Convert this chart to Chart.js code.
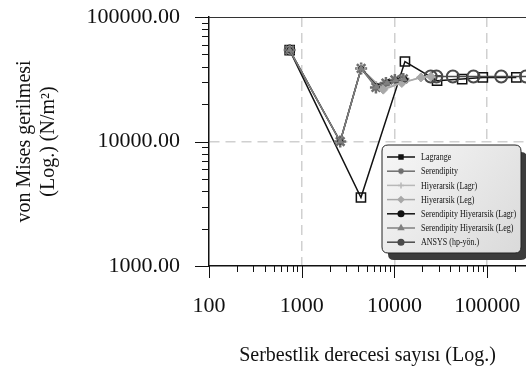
<!DOCTYPE html>
<html>
<head>
<meta charset="utf-8">
<script src="https://cdn.jsdelivr.net/npm/chart.js@4.4.0/dist/chart.umd.min.js"></script>
<style>
  html, body { margin: 0; padding: 0; background: #fff; }
  #wrap { width: 526px; height: 374px; position: relative; }
</style>
</head>
<body>
<div id="wrap"><canvas id="chart"></canvas></div>
<script>
// values (x = degrees of freedom, y = von Mises stress)
const lagrangeX = [741, 4350, 12970, 28800, 53700, 89700, 206000];
const lagrangeY = [54200, 3550, 43900, 30800, 31700, 32700, 32700];

const serendipityX = [741, 2600, 4370, 6310, 8090, 10100, 12450];
const serendipityY = [54200, 10000, 38600, 27200, 29500, 31200, 31800];

const hiyLagrX = [7400, 12450, 19000, 24600];
const hiyLagrY = [26500, 30000, 32600, 33300];

const hiyLegX = [4370, 7570, 12000, 19300, 24600];
const hiyLegY = [38600, 26100, 29500, 32700, 33200];

const serHiyLagrX = [741, 2600, 4370, 6500, 8500, 10500, 13000];
const serHiyLagrY = [54200, 10000, 38600, 27800, 30000, 31000, 31500];

const serHiyLegX = [741, 2600, 4370, 6400, 8300, 10300, 12700];
const serHiyLegY = [54200, 10000, 38600, 27500, 29700, 31000, 31600];

const ansysX = [24600, 28300, 42600, 71100, 141600, 262000];
const ansysY = [33300, 33300, 33300, 33300, 33300, 33300];

const xTickLabels = ['100', '1000', '10000', '100000'];
const yTickLabels = ['1000.00', '10000.00', '100000.00'];

const FONT = "'Liberation Serif', 'Times New Roman', serif";

function pts(xs, ys) {
  return xs.map((x, i) => ({ x, y: ys[i] }));
}

function isDecade(v) {
  const l = Math.log10(v);
  return Math.abs(l - Math.round(l)) < 1e-9;
}

function logTicks(min, max) {
  const out = [];
  for (let e = Math.floor(Math.log10(min)); e <= Math.ceil(Math.log10(max)); e++) {
    for (let m = 1; m <= 9; m++) {
      const v = m * Math.pow(10, e);
      if (v >= min - 1e-9 && v <= max + 1e-9) out.push({ value: v });
    }
  }
  return out;
}

function series(label, xs, ys, color, style, radius, fill, bw) {
  return {
    label,
    data: pts(xs, ys),
    borderColor: color,
    backgroundColor: color,
    borderWidth: 1.5,
    pointStyle: style,
    pointRadius: radius,
    pointBorderColor: color,
    pointBackgroundColor: fill,
    pointBorderWidth: bw,
    tension: 0,
    clip: 8,
  };
}

const datasets = [
  series('Serendipity Hiyerarsik (Leg)', serHiyLegX, serHiyLegY, '#808080', 'triangle', 3.5, '#808080', 1),
  series('Serendipity Hiyerarsik (Lagr)', serHiyLagrX, serHiyLagrY, '#111', 'circle', 2.5, '#111', 1),
  series('Hiyerarsik (Leg)', hiyLegX, hiyLegY, '#a8a8a8', 'rectRot', 4.5, '#a8a8a8', 1),
  series('Hiyerarsik (Lagr)', hiyLagrX, hiyLagrY, '#b8b8b8', 'cross', 4, '#b8b8b8', 1.5),
  series('Serendipity', serendipityX, serendipityY, '#6e6e6e', 'star', 6, '#6e6e6e', 2.5),
  series('ANSYS (hp-yön.)', ansysX, ansysY, '#4a4a4a', 'circle', 6, 'rgba(0,0,0,0)', 2),
  series('Lagrange', lagrangeX, lagrangeY, '#111', 'rect', 6.5, 'rgba(0,0,0,0)', 1.5),
];

// legend order as in the picture
const legendOrder = ['Lagrange', 'Serendipity', 'Hiyerarsik (Lagr)', 'Hiyerarsik (Leg)',
  'Serendipity Hiyerarsik (Lagr)', 'Serendipity Hiyerarsik (Leg)', 'ANSYS (hp-yön.)'];

// tick marks (long at decades, short otherwise) and the top frame line
const tickMarks = {
  id: 'tickMarks',
  afterDraw(chart) {
    const ctx = chart.ctx;
    const area = chart.chartArea;
    const xs = chart.scales.x;
    const ys = chart.scales.y;
    ctx.save();
    ctx.strokeStyle = '#111';
    ctx.lineWidth = 1;
    ctx.beginPath();
    xs.ticks.forEach((t) => {
      if (t.value > xs.max) return;
      const px = Math.round(xs.getPixelForValue(t.value)) + 0.5;
      const len = isDecade(t.value) ? 12 : 6;
      ctx.moveTo(px, area.bottom);
      ctx.lineTo(px, area.bottom + len);
    });
    ys.ticks.forEach((t) => {
      const py = Math.round(ys.getPixelForValue(t.value)) + 0.5;
      const len = isDecade(t.value) ? 14 : 7;
      ctx.moveTo(area.left - len, py);
      ctx.lineTo(area.left, py);
    });
    ctx.stroke();
    ctx.strokeStyle = '#333';
    ctx.beginPath();
    const top = Math.round(ys.getPixelForValue(ys.max)) + 0.5;
    ctx.moveTo(area.left, top);
    ctx.lineTo(area.right, top);
    ctx.stroke();
    ctx.restore();
  },
};

function roundRect(ctx, x, y, w, h, r) {
  ctx.beginPath();
  ctx.moveTo(x + r, y);
  ctx.lineTo(x + w - r, y);
  ctx.quadraticCurveTo(x + w, y, x + w, y + r);
  ctx.lineTo(x + w, y + h - r);
  ctx.quadraticCurveTo(x + w, y + h, x + w - r, y + h);
  ctx.lineTo(x + r, y + h);
  ctx.quadraticCurveTo(x, y + h, x, y + h - r);
  ctx.lineTo(x, y + r);
  ctx.quadraticCurveTo(x, y, x + r, y);
  ctx.closePath();
}

const legendBox = {
  id: 'legendBox',
  afterDraw(chart) {
    const ctx = chart.ctx;
    const area = chart.chartArea;
    const w = 139, h = 108;
    const x = area.right - 144;
    const y = area.top + 128;
    ctx.save();
    roundRect(ctx, x + 6, y + 7, w, h, 6);
    ctx.fillStyle = '#3c3c3c';
    ctx.fill();
    const g = ctx.createLinearGradient(x, y, x + w, y + h);
    g.addColorStop(0, '#f7f7f7');
    g.addColorStop(1, '#dadada');
    roundRect(ctx, x, y, w, h, 6);
    ctx.fillStyle = g;
    ctx.fill();
    ctx.strokeStyle = '#222';
    ctx.lineWidth = 1;
    ctx.stroke();

    legendOrder.forEach((name, i) => {
      const ds = chart.data.datasets.find((d) => d.label === name);
      const cy = y + 12 + i * 14.2;
      ctx.strokeStyle = ds.borderColor;
      ctx.lineWidth = 1.5;
      ctx.beginPath();
      ctx.moveTo(x + 5, cy);
      ctx.lineTo(x + 33, cy);
      ctx.stroke();
      ctx.fillStyle = ds.borderColor;
      Chart.helpers.drawPoint(ctx, {
        pointStyle: ds.pointStyle,
        radius: ds.pointStyle === 'star' || ds.pointStyle === 'cross' ? 3 : 2.8,
        borderWidth: ds.pointStyle === 'circle' && name.startsWith('ANSYS') ? 2 : 1,
        rotation: 0,
      }, x + 19, cy);
      if (ds.pointStyle !== 'star' && ds.pointStyle !== 'cross') ctx.fill();
      ctx.save();
      ctx.translate(x + 39, cy);
      ctx.scale(0.8, 1);
      ctx.fillStyle = '#111';
      ctx.font = '10px ' + FONT;
      ctx.textBaseline = 'middle';
      ctx.fillText(name, 0, 0.5);
      ctx.restore();
    });
    ctx.restore();
  },
};

new Chart(document.getElementById('chart'), {
  type: 'line',
  data: { datasets },
  plugins: [tickMarks, legendBox],
  options: {
    responsive: true,
    maintainAspectRatio: false,
    animation: false,
    layout: { autoPadding: false, padding: { top: 17, left: 0, right: 0, bottom: 0 } },
    plugins: {
      legend: { display: false },
      tooltip: { enabled: false },
    },
    scales: {
      x: {
        type: 'logarithmic',
        min: 100,
        max: 262000,
        afterBuildTicks: (s) => { s.ticks = logTicks(s.min, s.max); },
        afterFit: (s) => { s.height = 108; s.paddingLeft = 0; s.paddingRight = 0; },
        ticks: {
          autoSkip: false,
          maxRotation: 0,
          padding: 27,
          color: '#111',
          font: { family: FONT, size: 22 },
          callback: (v) => {
            const i = Math.round(Math.log10(v)) - 2;
            return isDecade(v) && xTickLabels[i] ? xTickLabels[i] : '';
          },
        },
        grid: {
          drawTicks: false,
          lineWidth: 1.5,
          color: (c) => (c.tick && isDecade(c.tick.value) && c.tick.value > 100 ? '#d0d0d0' : 'rgba(0,0,0,0)'),
        },
        border: { color: '#111', width: 1.5, dash: [10, 6] },
        title: {
          display: true,
          text: 'Serbestlik derecesi sayısı (Log.)',
          color: '#111',
          font: { family: FONT, size: 20 },
          padding: { top: 0, bottom: 6 },
        },
      },
      y: {
        type: 'logarithmic',
        min: 1000,
        max: 100000,
        afterBuildTicks: (s) => { s.ticks = logTicks(s.min, s.max); },
        afterFit: (s) => { s.width = 209; s.paddingTop = 0; s.paddingBottom = 0; },
        ticks: {
          autoSkip: false,
          padding: 29,
          color: '#111',
          font: { family: FONT, size: 22 },
          callback: (v) => {
            const i = Math.round(Math.log10(v)) - 3;
            return isDecade(v) && yTickLabels[i] ? yTickLabels[i] : '';
          },
        },
        grid: {
          drawTicks: false,
          lineWidth: 1.5,
          color: (c) => (c.tick && isDecade(c.tick.value) && c.tick.value > 1000 && c.tick.value < 100000 ? '#d0d0d0' : 'rgba(0,0,0,0)'),
        },
        border: { color: '#111', width: 1.5, dash: [10, 6] },
        title: {
          display: true,
          text: ['von Mises gerilmesi', '(Log.) (N/m²)'],
          color: '#111',
          font: { family: FONT, size: 20 },
          padding: { top: 13, bottom: 0 },
        },
      },
    },
  },
});
</script>
</body>
</html>
